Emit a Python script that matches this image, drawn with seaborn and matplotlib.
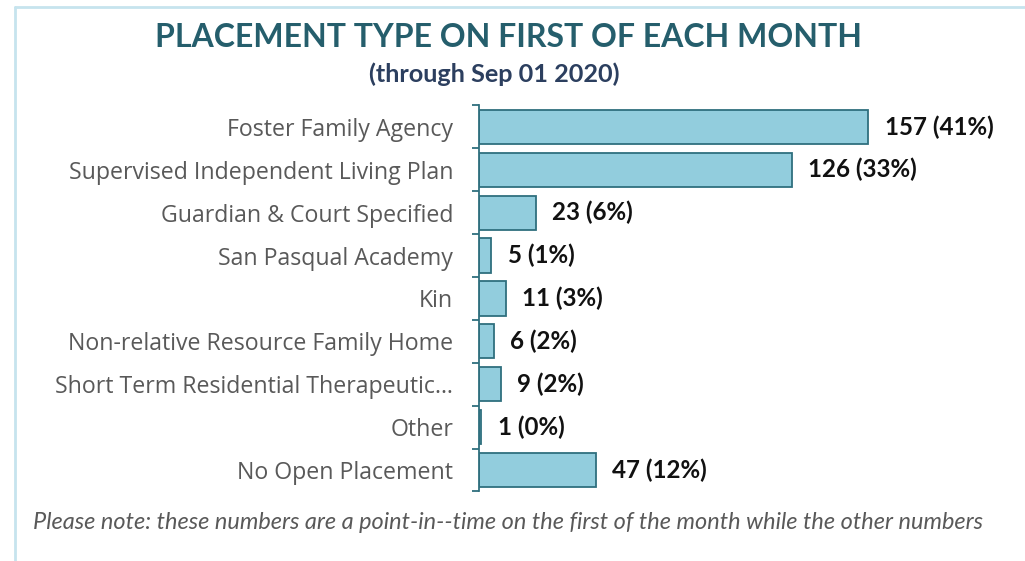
import matplotlib
matplotlib.use("Agg")
import matplotlib.pyplot as plt
import seaborn as sns
import pandas as pd
from matplotlib.lines import Line2D

categories = [
    "Foster Family Agency",
    "Supervised Independent Living Plan",
    "Guardian & Court Specified",
    "San Pasqual Academy",
    "Kin",
    "Non-relative Resource Family Home",
    "Short Term Residential Therapeutic\u2026",
    "Other",
    "No Open Placement",
]
counts = [157, 126, 23, 5, 11, 6, 9, 1, 47]
percents = [41, 33, 6, 1, 3, 2, 2, 0, 12]

title = "PLACEMENT TYPE ON FIRST OF EACH MONTH"
subtitle = "(through Sep 01 2020)"
footnote = ("Please note: these numbers are a point-in--time on the first of the "
            "month while the other numbers")

df = pd.DataFrame({"category": categories, "count": counts})

sns.set_theme(style="white")
plt.rcParams["font.family"] = ["Open Sans", "DejaVu Sans"]

fig = plt.figure(figsize=(10.25, 5.61), dpi=100)
ax = fig.add_axes([0.4673, 0.124, 0.5083, 0.688])

bar_fill = "#92CDDD"
bar_edge = "#2F6F7E"
sns.barplot(data=df, y="category", x="count", orient="h", ax=ax,
            color=bar_fill, edgecolor=bar_edge, linewidth=1.3,
            width=0.8, saturation=1)

ax.set_xlim(0, 210)
ax.set_ylim(len(categories) - 0.5, -0.5)
ax.set_xlabel("")
ax.set_ylabel("")
ax.set_xticks([])
for side in ("top", "right", "bottom"):
    ax.spines[side].set_visible(False)
ax.spines["left"].set_color(bar_edge)
ax.spines["left"].set_linewidth(1.3)

# category labels, with tick marks on the category boundaries
ax.set_yticks(range(len(categories)))
ax.set_yticklabels(categories, fontsize=16.7, color="#595959",
                   family=["Open Sans", "DejaVu Sans"])
ax.tick_params(axis="y", which="major", left=False, length=0, pad=18.5)
ax.set_yticks([i - 0.5 for i in range(len(categories) + 1)], minor=True)
ax.tick_params(axis="y", which="minor", left=True, length=5, width=1.3,
               color=bar_edge, direction="out")

# value labels
for i, (c, p) in enumerate(zip(counts, percents)):
    ax.text(c + 6.5, i, f"{c} ({p}%)", va="center", ha="left",
            fontsize=17.4, fontweight="bold", color="#111111",
            family=["Lato", "DejaVu Sans"])

fig.text(0.496, 0.933, title, ha="center", va="center", fontsize=23,
         fontweight="bold", color="#255E6C", family=["Lato", "DejaVu Sans"])
fig.text(0.482, 0.868, subtitle, ha="center", va="center", fontsize=18.2,
         fontweight="bold", color="#2C3F5F", family=["Lato", "DejaVu Sans"])
fig.text(0.032, 0.069, footnote, ha="left", va="center", fontsize=16.9,
         style="italic", color="#595959", family=["Lato", "DejaVu Sans"])

# light panel frame on the top and left
frame_color = "#C6E4EE"
fig.add_artist(Line2D([0.0146, 1.0], [0.987, 0.987], color=frame_color,
                      lw=2, transform=fig.transFigure))
fig.add_artist(Line2D([0.0146, 0.0146], [0.0, 0.987], color=frame_color,
                      lw=2, transform=fig.transFigure))

fig.savefig("out.png", dpi=100, facecolor="white")
